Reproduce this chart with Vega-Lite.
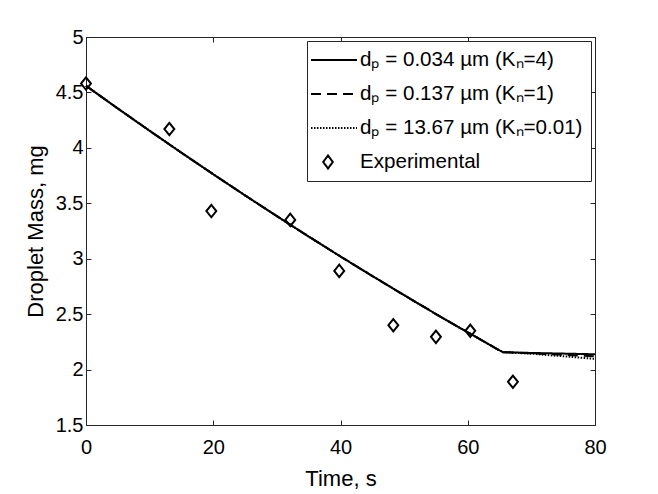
{
  "$schema": "https://vega.github.io/schema/vega-lite/v6.json",
  "description": "Droplet mass vs time, model curves for three particle sizes and experimental points",
  "width": 509,
  "height": 388,
  "autosize": "none",
  "padding": {"left": 86, "top": 37, "right": 63, "bottom": 69},
  "background": "white",
  "config": {
    "view": {"stroke": null},
    "font": "Liberation Sans",
    "axis": {
      "grid": false,
      "domainColor": "#262626",
      "domainWidth": 1,
      "tickColor": "#262626",
      "tickWidth": 1,
      "tickSize": -5,
      "labelFont": "Liberation Sans",
      "labelFontSize": 20,
      "labelColor": "black",
      "labelFlush": false,
      "titleFont": "Liberation Sans",
      "titleFontSize": 22,
      "titleFontWeight": "normal",
      "titleColor": "black"
    }
  },
  "datasets": {
    "model": [
      {"series": "dₚ = 0.034 µm (Kₙ=4)", "t": 0, "mass": 4.56},
      {"series": "dₚ = 0.034 µm (Kₙ=4)", "t": 5, "mass": 4.355},
      {"series": "dₚ = 0.034 µm (Kₙ=4)", "t": 10, "mass": 4.154},
      {"series": "dₚ = 0.034 µm (Kₙ=4)", "t": 15, "mass": 3.956},
      {"series": "dₚ = 0.034 µm (Kₙ=4)", "t": 20, "mass": 3.762},
      {"series": "dₚ = 0.034 µm (Kₙ=4)", "t": 25, "mass": 3.571},
      {"series": "dₚ = 0.034 µm (Kₙ=4)", "t": 30, "mass": 3.384},
      {"series": "dₚ = 0.034 µm (Kₙ=4)", "t": 35, "mass": 3.2},
      {"series": "dₚ = 0.034 µm (Kₙ=4)", "t": 40, "mass": 3.02},
      {"series": "dₚ = 0.034 µm (Kₙ=4)", "t": 45, "mass": 2.844},
      {"series": "dₚ = 0.034 µm (Kₙ=4)", "t": 50, "mass": 2.671},
      {"series": "dₚ = 0.034 µm (Kₙ=4)", "t": 55, "mass": 2.501},
      {"series": "dₚ = 0.034 µm (Kₙ=4)", "t": 60, "mass": 2.336},
      {"series": "dₚ = 0.034 µm (Kₙ=4)", "t": 65.5, "mass": 2.157},
      {"series": "dₚ = 0.034 µm (Kₙ=4)", "t": 70, "mass": 2.15},
      {"series": "dₚ = 0.034 µm (Kₙ=4)", "t": 75, "mass": 2.144},
      {"series": "dₚ = 0.034 µm (Kₙ=4)", "t": 80, "mass": 2.138},
      {"series": "dₚ = 0.137 µm (Kₙ=1)", "t": 0, "mass": 4.56},
      {"series": "dₚ = 0.137 µm (Kₙ=1)", "t": 5, "mass": 4.355},
      {"series": "dₚ = 0.137 µm (Kₙ=1)", "t": 10, "mass": 4.154},
      {"series": "dₚ = 0.137 µm (Kₙ=1)", "t": 15, "mass": 3.956},
      {"series": "dₚ = 0.137 µm (Kₙ=1)", "t": 20, "mass": 3.762},
      {"series": "dₚ = 0.137 µm (Kₙ=1)", "t": 25, "mass": 3.571},
      {"series": "dₚ = 0.137 µm (Kₙ=1)", "t": 30, "mass": 3.384},
      {"series": "dₚ = 0.137 µm (Kₙ=1)", "t": 35, "mass": 3.2},
      {"series": "dₚ = 0.137 µm (Kₙ=1)", "t": 40, "mass": 3.02},
      {"series": "dₚ = 0.137 µm (Kₙ=1)", "t": 45, "mass": 2.844},
      {"series": "dₚ = 0.137 µm (Kₙ=1)", "t": 50, "mass": 2.671},
      {"series": "dₚ = 0.137 µm (Kₙ=1)", "t": 55, "mass": 2.501},
      {"series": "dₚ = 0.137 µm (Kₙ=1)", "t": 60, "mass": 2.336},
      {"series": "dₚ = 0.137 µm (Kₙ=1)", "t": 65.5, "mass": 2.157},
      {"series": "dₚ = 0.137 µm (Kₙ=1)", "t": 70, "mass": 2.147},
      {"series": "dₚ = 0.137 µm (Kₙ=1)", "t": 75, "mass": 2.133},
      {"series": "dₚ = 0.137 µm (Kₙ=1)", "t": 80, "mass": 2.12},
      {"series": "dₚ = 13.67 µm (Kₙ=0.01)", "t": 0, "mass": 4.56},
      {"series": "dₚ = 13.67 µm (Kₙ=0.01)", "t": 5, "mass": 4.355},
      {"series": "dₚ = 13.67 µm (Kₙ=0.01)", "t": 10, "mass": 4.154},
      {"series": "dₚ = 13.67 µm (Kₙ=0.01)", "t": 15, "mass": 3.956},
      {"series": "dₚ = 13.67 µm (Kₙ=0.01)", "t": 20, "mass": 3.762},
      {"series": "dₚ = 13.67 µm (Kₙ=0.01)", "t": 25, "mass": 3.571},
      {"series": "dₚ = 13.67 µm (Kₙ=0.01)", "t": 30, "mass": 3.384},
      {"series": "dₚ = 13.67 µm (Kₙ=0.01)", "t": 35, "mass": 3.2},
      {"series": "dₚ = 13.67 µm (Kₙ=0.01)", "t": 40, "mass": 3.02},
      {"series": "dₚ = 13.67 µm (Kₙ=0.01)", "t": 45, "mass": 2.844},
      {"series": "dₚ = 13.67 µm (Kₙ=0.01)", "t": 50, "mass": 2.671},
      {"series": "dₚ = 13.67 µm (Kₙ=0.01)", "t": 55, "mass": 2.501},
      {"series": "dₚ = 13.67 µm (Kₙ=0.01)", "t": 60, "mass": 2.336},
      {"series": "dₚ = 13.67 µm (Kₙ=0.01)", "t": 65.5, "mass": 2.157},
      {"series": "dₚ = 13.67 µm (Kₙ=0.01)", "t": 70, "mass": 2.143},
      {"series": "dₚ = 13.67 µm (Kₙ=0.01)", "t": 75, "mass": 2.12},
      {"series": "dₚ = 13.67 µm (Kₙ=0.01)", "t": 80, "mass": 2.096}
    ],
    "exp": [
      {"t": 0, "mass": 4.58},
      {"t": 13.1, "mass": 4.17},
      {"t": 19.7, "mass": 3.43},
      {"t": 32.1, "mass": 3.35},
      {"t": 39.8, "mass": 2.89},
      {"t": 48.3, "mass": 2.4},
      {"t": 55.0, "mass": 2.295},
      {"t": 60.4, "mass": 2.35},
      {"t": 67.1, "mass": 1.89}
    ]
  },
  "layer": [
    {
      "data": {"name": "model"},
      "mark": {"type": "line", "color": "black", "strokeWidth": 2},
      "encoding": {
        "x": {
          "field": "t",
          "type": "quantitative",
          "scale": {"domain": [0, 80], "nice": false},
          "axis": {"orient": "bottom", "values": [0, 20, 40, 60, 80], "title": "Time, s", "labelPadding": 17, "titlePadding": 11}
        },
        "y": {
          "field": "mass",
          "type": "quantitative",
          "scale": {"domain": [1.5, 5], "nice": false, "zero": false},
          "axis": {"orient": "left", "values": [1.5, 2, 2.5, 3, 3.5, 4, 4.5, 5], "format": "~g", "title": "Droplet Mass, mg", "labelPadding": 8, "titlePadding": 8}
        },
        "strokeDash": {
          "field": "series",
          "type": "nominal",
          "scale": {
            "domain": ["dₚ = 0.034 µm (Kₙ=4)", "dₚ = 0.137 µm (Kₙ=1)", "dₚ = 13.67 µm (Kₙ=0.01)", "Experimental"],
            "range": [[1, 0], [10, 6], [1.5, 1.5], [1, 0]]
          },
          "legend": {
            "orient": "top-right",
            "offset": 4,
            "title": null,
            "fillColor": "white",
            "strokeColor": "#262626",
            "padding": 8,
            "symbolType": "M-2.3,0L2.3,0",
            "symbolSize": 400,
            "symbolStrokeWidth": 2,
            "symbolStrokeColor": "black",
            "symbolOffset": 8,
            "labelFont": "Liberation Sans",
            "labelFontSize": 20.6,
            "labelColor": "black",
            "labelOffset": 15,
            "labelLimit": 400,
            "rowPadding": 12,
            "encode": {
              "symbols": {
                "update": {
                  "shape": [
                    {"test": "datum.value === 'Experimental'", "value": "M-0.6,-0.65L-0.12,0L-0.6,0.65L-1.08,0Z"},
                    {"value": "M-2.3,0L2.3,0"}
                  ]
                }
              }
            }
          }
        }
      }
    },
    {
      "data": {"name": "exp"},
      "mark": {"type": "point", "shape": "M0,-1L0.8,0L0,1L-0.8,0Z", "filled": false, "color": "black", "strokeWidth": 2, "size": 154, "opacity": 1},
      "encoding": {
        "x": {
          "field": "t",
          "type": "quantitative",
          "scale": {"domain": [0, 80], "nice": false},
          "axis": {"orient": "top", "values": [0, 20, 40, 60, 80], "labels": false, "title": null}
        },
        "y": {
          "field": "mass",
          "type": "quantitative",
          "scale": {"domain": [1.5, 5], "nice": false, "zero": false},
          "axis": {"orient": "right", "values": [1.5, 2, 2.5, 3, 3.5, 4, 4.5, 5], "labels": false, "title": null}
        }
      }
    }
  ],
  "resolve": {"axis": {"x": "independent", "y": "independent"}}
}
